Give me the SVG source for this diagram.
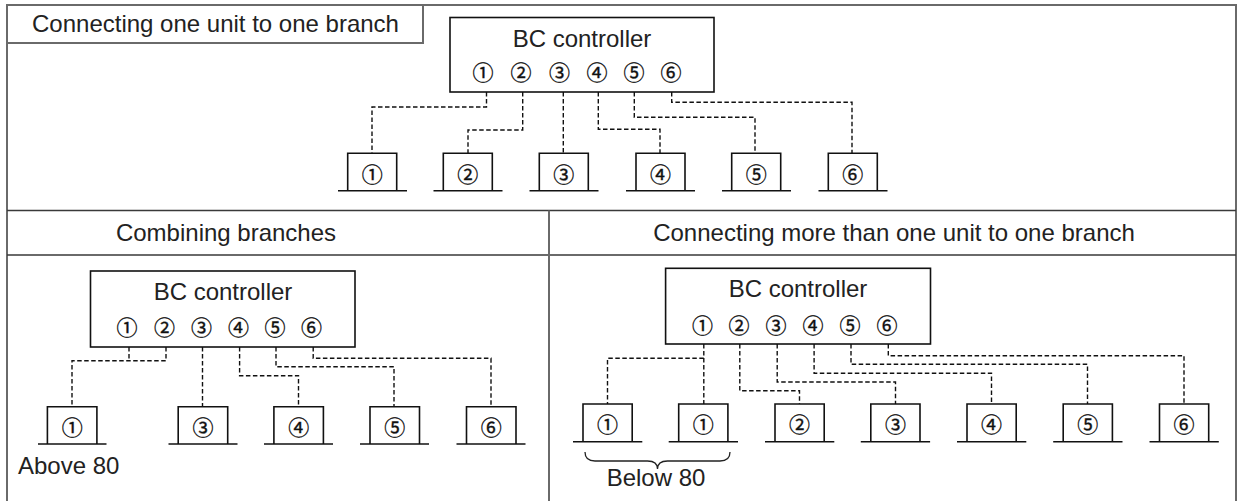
<svg xmlns="http://www.w3.org/2000/svg" width="1239" height="501" viewBox="0 0 1239 501">
<style>
.frame{fill:none;stroke:#6a6a6a;stroke-width:2}
.row{fill:none;stroke:#3a3a3a;stroke-width:1.5}
.box{fill:#fff;stroke:#111;stroke-width:1.6}
.base{stroke:#111;stroke-width:1.6}
.dash{fill:none;stroke:#111;stroke-width:1.4;stroke-dasharray:4.5 2.5}
.t{font-family:"Liberation Sans",Arial,sans-serif;font-size:24px;fill:#222}
.c{font-family:"Noto Sans CJK JP","DejaVu Sans",sans-serif;font-size:21px;fill:#111;stroke:#111;stroke-width:0.35;text-anchor:middle;dominant-baseline:central}
</style>
<rect width="1239" height="501" fill="#fff"/>
<g id="frame">
<path class="frame" d="M7 501 V5 H1236 V501"/>
<path class="frame" d="M7 43 H423 V5"/>
<path class="row" d="M7 210.5 H1236 M7 255 H1236"/>
<path class="frame" d="M549 210.5 V501"/>
</g>
<g id="labels">
<text class="t" x="32" y="32">Connecting one unit to one branch</text>
<text class="t" x="226" y="241" text-anchor="middle">Combining branches</text>
<text class="t" x="894" y="241" text-anchor="middle">Connecting more than one unit to one branch</text>
<text class="t" x="18" y="474">Above 80</text>
<text class="t" x="656" y="486" text-anchor="middle">Below 80</text>
</g>
<g id="connectors">
<path class="dash" d="M486.5 92 V107 H372 V153.3"/>
<path class="dash" d="M522.7 92 V130 H468 V153.3"/>
<path class="dash" d="M563.3 92 V153.3"/>
<path class="dash" d="M598.3 92 V129.3 H660 V153.3"/>
<path class="dash" d="M634.3 92 V117.3 H755 V153.3"/>
<path class="dash" d="M671.7 92 V102.3 H852 V153.3"/>
<path class="dash" d="M129 347 V360.7 M166 347 V360.7 H72 V406.7"/>
<path class="dash" d="M202.5 347 V406.7"/>
<path class="dash" d="M239.6 347 V375.7 H298.5 V406.7"/>
<path class="dash" d="M276 347 V366.7 H394 V406.7"/>
<path class="dash" d="M313.2 347 V358.3 H491 V406.7"/>
<path class="dash" d="M703.8 344 V404 M703.8 358.3 H607.5 V404"/>
<path class="dash" d="M739.8 344 V390.7 H799.5 V404"/>
<path class="dash" d="M777.2 344 V382 H895.5 V404"/>
<path class="dash" d="M814.1 344 V373.3 H991.5 V404"/>
<path class="dash" d="M851 344 V364.3 H1087.5 V404"/>
<path class="dash" d="M888.3 344 V355.7 H1184 V404"/>
</g>
<g id="bc-top">
<rect class="box" x="450" y="17.5" width="264" height="74.5"/>
<text class="t" x="582" y="47" text-anchor="middle">BC controller</text>
<text class="c" y="71"><tspan x="483">①</tspan><tspan x="521">②</tspan><tspan x="559.5">③</tspan><tspan x="597">④</tspan><tspan x="634">⑤</tspan><tspan x="671">⑥</tspan></text>
</g>
<g id="top-u1"><path class="box" d="M347.7 190.7 V153.3 H396.7 V190.7"/><path class="base" d="M338 190.7 H407"/><text class="c" x="372.2" y="172.5">①</text></g>
<g id="top-u2"><path class="box" d="M443.3 190.7 V153.3 H492.3 V190.7"/><path class="base" d="M433.5 190.7 H502.5"/><text class="c" x="467.8" y="172.5">②</text></g>
<g id="top-u3"><path class="box" d="M539.3 190.7 V153.3 H588.3 V190.7"/><path class="base" d="M529.5 190.7 H598.5"/><text class="c" x="563.8" y="172.5">③</text></g>
<g id="top-u4"><path class="box" d="M636 190.7 V153.3 H685 V190.7"/><path class="base" d="M626 190.7 H695"/><text class="c" x="660.5" y="172.5">④</text></g>
<g id="top-u5"><path class="box" d="M731.7 190.7 V153.3 H780.7 V190.7"/><path class="base" d="M722 190.7 H791"/><text class="c" x="756.2" y="172.5">⑤</text></g>
<g id="top-u6"><path class="box" d="M828.3 190.7 V153.3 H877.3 V190.7"/><path class="base" d="M818.5 190.7 H887.5"/><text class="c" x="852.8" y="172.5">⑥</text></g>
<g id="bc-left">
<rect class="box" x="90.5" y="271" width="264.5" height="76"/>
<text class="t" x="223" y="300" text-anchor="middle">BC controller</text>
<text class="c" y="326"><tspan x="127">①</tspan><tspan x="164.5">②</tspan><tspan x="201.5">③</tspan><tspan x="238.5">④</tspan><tspan x="275">⑤</tspan><tspan x="311.5">⑥</tspan></text>
</g>
<g id="left-u1"><path class="box" d="M47.4 444 V406.7 H96.9 V444"/><path class="base" d="M38 444 H106.5"/><text class="c" x="72.2" y="425.5">①</text></g>
<g id="left-u3"><path class="box" d="M178.2 444 V406.7 H227.7 V444"/><path class="base" d="M168.5 444 H237.5"/><text class="c" x="203" y="425.5">③</text></g>
<g id="left-u4"><path class="box" d="M273.9 444 V406.7 H323.4 V444"/><path class="base" d="M264 444 H333"/><text class="c" x="298.7" y="425.5">④</text></g>
<g id="left-u5"><path class="box" d="M370 444 V406.7 H419.5 V444"/><path class="base" d="M360 444 H429"/><text class="c" x="394.7" y="425.5">⑤</text></g>
<g id="left-u6"><path class="box" d="M466.5 444 V406.7 H516 V444"/><path class="base" d="M456.5 444 H525.5"/><text class="c" x="491.2" y="425.5">⑥</text></g>
<g id="bc-right">
<rect class="box" x="665.6" y="268.3" width="264.9" height="75.7"/>
<text class="t" x="798" y="297" text-anchor="middle">BC controller</text>
<text class="c" y="324"><tspan x="702.5">①</tspan><tspan x="739">②</tspan><tspan x="776">③</tspan><tspan x="813">④</tspan><tspan x="850">⑤</tspan><tspan x="887">⑥</tspan></text>
</g>
<g id="right-u1a"><path class="box" d="M583 441.7 V404 H632.2 V441.7"/><path class="base" d="M573 441.7 H642.3"/><text class="c" x="607.6" y="423">①</text></g>
<g id="right-u1b"><path class="box" d="M678.7 441.7 V404 H727.9 V441.7"/><path class="base" d="M668.7 441.7 H738"/><text class="c" x="703.3" y="423">①</text></g>
<g id="right-u2"><path class="box" d="M775 441.7 V404 H824.2 V441.7"/><path class="base" d="M765 441.7 H834.3"/><text class="c" x="799.6" y="423">②</text></g>
<g id="right-u3"><path class="box" d="M870.8 441.7 V404 H920 V441.7"/><path class="base" d="M860.8 441.7 H930.1"/><text class="c" x="895.4" y="423">③</text></g>
<g id="right-u4"><path class="box" d="M967 441.7 V404 H1016.2 V441.7"/><path class="base" d="M957 441.7 H1026.3"/><text class="c" x="991.6" y="423">④</text></g>
<g id="right-u5"><path class="box" d="M1063.2 441.7 V404 H1112.4 V441.7"/><path class="base" d="M1053.2 441.7 H1122.5"/><text class="c" x="1087.8" y="423">⑤</text></g>
<g id="right-u6"><path class="box" d="M1159.5 441.7 V404 H1208.7 V441.7"/><path class="base" d="M1149.5 441.7 H1218.8"/><text class="c" x="1184.1" y="423">⑥</text></g>
<g id="brace">
<path fill="none" stroke="#222" stroke-width="1.3" d="M585 452 Q585 461 595 461 H647.5 Q657.5 461 657.5 469 Q657.5 461 667.5 461 H720 Q730 461 730 452"/>
</g>
</svg>
